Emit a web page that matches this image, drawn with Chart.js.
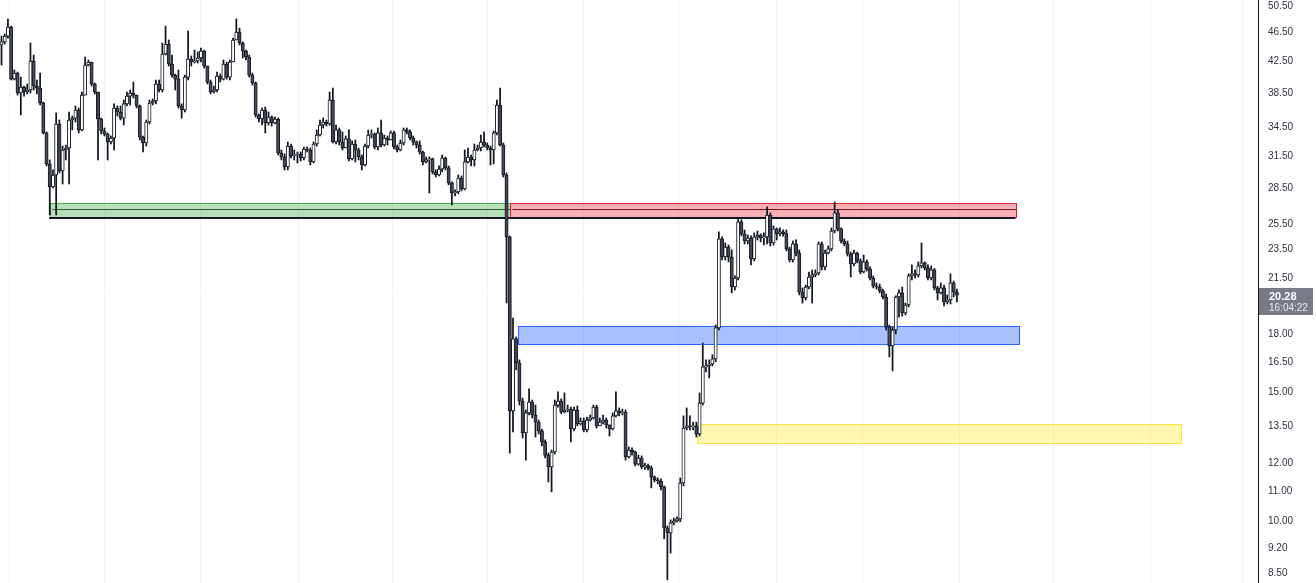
<!DOCTYPE html>
<html>
<head>
<meta charset="utf-8">
<script src="https://cdn.jsdelivr.net/npm/chart.js@4.4.0/dist/chart.umd.min.js"></script>
<style>
  html, body { margin: 0; padding: 0; background: #ffffff; overflow: hidden; }
  #grafico { display: block; }
</style>
</head>
<body>
<canvas id="grafico" width="1316" height="583"></canvas>
<script>
// ===== DADOS =====
const primeiraAbertura = 44.53;

const fechamentos = [
  44.96, 45.80, 47.11, 40.00, 40.77, 38.29, 39.01, 38.41, 38.65, 42.35, 39.14, 38.88, 37.11, 33.77, 30.63, 28.49,
  29.59, 34.73, 29.97, 32.01, 32.21, 35.17, 35.39, 36.30, 34.09, 38.04, 41.81, 42.21, 39.39, 38.41, 35.28, 33.98,
  33.66, 32.82, 33.24, 36.53, 36.07, 35.39, 37.00, 37.92, 38.29, 38.04, 36.76, 33.34, 32.72, 34.95, 37.11, 37.34,
  39.39, 38.65, 43.29, 44.67, 41.95, 40.51, 40.00, 36.76, 36.30, 40.25, 42.61, 42.21, 42.35, 42.75, 43.70, 41.68,
  39.64, 38.41, 38.65, 40.38, 40.00, 41.95, 40.26, 42.21, 45.24, 46.39, 44.81, 43.70, 42.88, 40.51, 39.51, 35.73,
  35.28, 36.30, 34.84, 35.50, 34.84, 35.28, 31.71, 31.31, 30.34, 32.41, 31.41, 31.51, 31.61, 31.21, 32.11, 32.01,
  30.83, 32.62, 33.55, 34.62, 34.95, 34.73, 37.46, 32.82, 34.09, 32.82, 32.21, 33.14, 31.12, 32.62, 32.01, 31.31,
  30.54, 32.41, 33.55, 33.66, 32.31, 33.77, 32.51, 33.24, 33.03, 33.77, 32.31, 32.01, 32.72, 34.09, 33.88, 33.24,
  32.82, 32.51, 31.81, 30.83, 31.02, 31.12, 29.87, 29.59, 30.15, 31.21, 30.25, 28.86, 27.96, 28.05, 29.31, 28.32,
  30.83, 31.31, 31.02, 32.01, 32.21, 32.82, 32.51, 32.21, 32.01, 33.77, 36.87, 32.51, 29.59, 24.35,
  14.09, 17.67, 16.38, 14.53, 13.15, 14.00, 14.49, 13.91, 13.60, 13.23, 12.78, 12.26, 11.81, 12.38, 14.35, 14.53,
  14.04, 14.13, 14.17, 13.31, 14.13, 13.52, 13.65, 13.27, 13.69, 13.78, 14.26, 13.44, 13.60, 13.69, 13.48, 13.31,
  13.87, 14.09, 14.00, 14.04, 12.19, 12.46, 12.38, 11.92, 12.15, 11.81, 11.86, 11.77, 11.45, 11.34, 11.30, 11.10, 9.75,
  9.60, 9.91, 9.97, 10.03, 11.23, 13.35, 13.44, 13.40, 13.44, 13.10, 14.44, 16.18, 16.23, 16.33, 16.59, 18.29,
  24.20, 22.86, 23.59, 22.86, 20.80, 21.40, 25.53, 24.58, 24.04, 24.27, 22.72, 24.35, 24.50, 24.27, 24.35, 26.09,
  23.89, 24.97, 24.58, 24.74, 24.60, 23.45, 22.65, 23.82, 23.15, 20.48, 20.10, 20.80, 21.47, 21.61, 21.74, 23.82, 22.16,
  23.15, 23.45, 24.81, 26.26, 24.97, 24.04, 23.82, 23.08, 22.37, 23.15, 22.58, 21.81, 22.51, 22.02, 21.40, 20.87,
  20.80, 20.55, 20.16, 18.34, 17.29, 18.17, 20.16, 20.42, 19.17, 19.66, 21.54, 21.68, 21.61, 22.23,
  22.44, 22.09, 21.40, 21.95, 20.74, 20.42, 20.74, 19.85, 19.97, 21.07, 20.48, 20.28
];

const maximas = [
  45.80, 46.09, 48.32, 47.26, 41.16, 40.90, 40.25, 39.13, 39.39, 44.81, 43.15, 39.89, 40.77, 37.22, 33.88, 31.02,
  30.06, 35.96, 35.17, 32.41, 32.51, 36.07, 35.62, 36.76, 36.53, 38.41, 42.88, 42.48, 42.21, 39.51, 38.41, 35.39,
  34.30, 33.77, 33.45, 37.00, 36.76, 36.76, 37.46, 38.41, 38.65, 39.64, 38.04, 36.87, 33.45, 35.17, 37.46, 37.58,
  39.89, 39.89, 44.81, 47.26, 45.24, 43.15, 40.64, 41.16, 37.00, 40.51, 46.53, 43.02, 43.84, 43.56, 44.11, 43.80,
  41.68, 39.89, 39.14, 40.90, 40.64, 42.48, 42.21, 42.48, 45.50, 48.32, 46.97, 44.96, 43.84, 43.15, 40.77, 39.64,
  35.84, 36.53, 36.64, 36.07, 35.62, 35.50, 35.39, 32.01, 31.61, 32.82, 32.62, 32.01, 31.81, 31.81, 32.31, 32.31,
  32.21, 32.82, 34.09, 35.17, 35.39, 35.17, 38.41, 38.89, 34.62, 34.30, 33.88, 33.45, 34.09, 32.93, 33.03, 32.20,
  31.51, 32.62, 34.09, 34.09, 33.77, 34.30, 35.17, 33.55, 33.45, 33.98, 33.98, 32.51, 33.03, 34.30, 34.30, 34.09,
  33.45, 32.93, 32.93, 31.91, 31.31, 31.31, 31.21, 30.06, 30.44, 31.51, 31.31, 30.44, 28.95, 28.23, 29.59, 29.50,
  32.01, 32.21, 31.51, 32.62, 32.51, 33.55, 33.88, 32.72, 32.41, 33.98, 37.46, 38.89, 32.72, 29.78,
  24.43, 18.87, 17.78, 16.54, 14.67, 14.13, 15.10, 14.58, 14.35, 13.69, 13.31, 12.86, 12.34, 12.46, 14.58, 14.96,
  14.63, 14.91, 14.35, 14.26, 14.26, 14.31, 13.78, 13.78, 13.82, 13.91, 14.35, 14.35, 13.78, 13.91, 13.78, 13.48,
  14.00, 14.96, 14.22, 14.17, 14.13, 12.58, 12.54, 12.42, 12.26, 12.23, 11.95, 11.92, 11.85, 11.48, 11.41, 11.38, 11.13,
  9.81, 10.00, 10.06, 10.10, 11.41, 13.87, 14.22, 13.87, 13.60, 13.60, 14.91, 17.44, 16.54, 16.54, 16.81, 18.46,
  24.74, 24.35, 23.89, 23.74, 23.37, 21.54, 25.85, 25.69, 24.89, 24.50, 24.43, 24.66, 24.81, 24.58, 24.66, 26.76,
  26.26, 25.21, 25.05, 25.05, 24.90, 24.89, 23.59, 24.04, 24.12, 23.37, 20.74, 20.93, 21.81, 21.95, 21.95, 23.97, 23.97,
  23.37, 23.67, 25.05, 27.18, 26.51, 25.05, 24.20, 24.04, 23.22, 23.37, 23.22, 22.72, 23.00, 22.65, 22.16, 21.54,
  21.07, 21.00, 20.67, 20.35, 18.46, 18.34, 20.23, 20.61, 20.80, 19.78, 21.68, 22.30, 21.95, 22.51,
  23.89, 22.51, 22.30, 22.23, 22.05, 20.85, 21.07, 20.93, 20.29, 21.68, 21.20, 20.67
];

const minimas = [
  41.81, 44.67, 45.50, 39.89, 39.89, 38.04, 35.73, 37.92, 38.17, 38.29, 38.65, 38.17, 36.87, 33.66, 30.44, 26.09,
  28.40, 26.09, 29.78, 28.76, 31.02, 28.76, 34.09, 34.95, 33.77, 33.98, 38.04, 41.68, 39.14, 38.17, 31.02, 33.66,
  33.45, 31.02, 32.62, 32.01, 35.62, 35.17, 34.62, 36.76, 36.87, 37.69, 36.53, 33.03, 31.81, 32.41, 34.73, 36.87,
  37.00, 38.41, 38.41, 43.15, 41.68, 40.26, 38.65, 36.53, 35.39, 36.07, 39.89, 41.68, 42.08, 42.08, 42.21, 41.42,
  39.39, 38.17, 38.29, 38.41, 39.64, 39.89, 40.00, 39.89, 42.21, 45.24, 44.53, 42.75, 42.48, 40.26, 39.26, 35.50,
  34.95, 34.62, 33.77, 34.62, 34.51, 34.73, 31.51, 31.02, 30.06, 30.06, 31.21, 31.02, 30.73, 30.92, 31.02, 31.81,
  30.54, 30.73, 32.41, 33.45, 34.30, 34.51, 34.60, 32.72, 32.62, 32.51, 32.01, 32.21, 30.92, 31.02, 30.83, 31.02,
  30.06, 30.44, 32.21, 33.24, 32.11, 32.01, 32.31, 32.41, 32.51, 33.03, 32.11, 31.81, 31.91, 32.51, 33.66, 33.03,
  32.51, 32.21, 31.61, 30.54, 30.73, 27.96, 29.68, 29.40, 29.50, 29.87, 30.06, 28.68, 26.93, 27.70, 27.88, 28.14,
  28.23, 30.73, 30.44, 30.44, 31.91, 31.91, 32.31, 32.01, 30.54, 30.63, 33.55, 32.41, 29.40, 19.78,
  12.34, 13.19, 16.03, 14.35, 12.94, 12.07, 13.91, 13.78, 12.98, 13.10, 12.62, 12.15, 11.27, 10.92, 12.30, 14.26,
  13.96, 14.00, 14.04, 12.78, 13.23, 13.44, 13.48, 13.19, 13.19, 13.65, 13.73, 13.35, 13.44, 13.52, 13.35, 13.02,
  13.27, 13.82, 13.87, 13.91, 12.07, 12.15, 12.26, 11.85, 11.88, 11.74, 11.72, 11.70, 11.06, 11.27, 11.20, 10.99, 9.42,
  8.28, 9.01, 9.84, 9.94, 9.94, 11.13, 13.27, 13.27, 13.27, 12.98, 13.02, 14.35, 15.93, 15.63, 16.23, 16.44,
  18.17, 22.65, 22.65, 22.51, 20.42, 20.61, 21.27, 24.43, 23.82, 23.82, 22.30, 22.58, 24.12, 23.97, 23.74, 23.82,
  23.67, 23.74, 24.12, 24.43, 24.40, 23.30, 22.51, 22.51, 22.93, 20.29, 19.78, 19.97, 20.67, 19.78, 21.47, 21.61, 21.95,
  21.95, 23.08, 23.30, 24.66, 24.81, 23.89, 23.67, 22.93, 21.47, 22.23, 22.44, 21.68, 21.74, 21.88, 21.27, 20.74,
  20.67, 20.42, 20.04, 18.17, 16.70, 15.98, 17.95, 18.92, 18.98, 19.05, 19.54, 21.27, 21.40, 21.47,
  22.09, 21.95, 21.27, 21.27, 20.61, 19.97, 20.35, 19.60, 19.72, 19.72, 20.16, 19.85
];

// linhas verticais da grade de tempo (posição em índice de candle)
const gradeTempo = [2.6, 31.9, 62.0, 92.2, 121.4, 151.2, 180.8, 210.3, 240.8, 267.8, 297.9, 326.9, 357.3, 385.9];

// níveis mostrados na escala de preço
const niveisPreco = [50.5, 46.5, 42.5, 38.5, 34.5, 31.5, 28.5, 25.5, 23.5, 21.5, 18, 16.5, 15, 13.5, 12, 11, 10, 9.2, 8.5];

// zonas desenhadas (verde, vermelha, azul, amarela)
const zonaInicio = [15.1, 158.1, 160.6, 216.2];
const zonaFim    = [158.1, 315.4, 316.3, 366.7];
const zonaTopo   = [27.10, 27.10, 18.41, 13.52];
const zonaBase   = [25.90, 25.90, 17.39, 12.74];
const zonaMeio   = [26.55, 26.55, null, null];

// linha de suporte preta sob as zonas verde e vermelha
const suporteInicio = 14.8;
const suporteFim = 315.2;
const suportePreco = 25.84;

const horaUltimo = '16:04:22';

// ===== CORES =====
const coresZona = [
  { fundo: 'rgba(76,175,80,0.4)',  borda: '#4caf50', meio: '#2f5e31' },
  { fundo: 'rgba(242,54,69,0.4)',  borda: '#e3202f', meio: '#74141c' },
  { fundo: 'rgba(41,98,255,0.4)',  borda: '#2962ff', meio: null },
  { fundo: 'rgba(255,235,59,0.4)', borda: '#fbe440', meio: null }
];
const corContorno = '#131722';
const corAlta = '#ffffff';
const corBaixa = '#454957';

// aberturas: cada candle abre onde o anterior fechou
const aberturas = fechamentos.map((f, i) => i === 0 ? primeiraAbertura : fechamentos[i - 1]);

const pavios = fechamentos.map((f, i) => ({ x: i, y: [minimas[i], maximas[i]] }));
const corpos = fechamentos.map((f, i) => ({ x: i, y: [aberturas[i], f] }));
const coresCorpo = fechamentos.map((f, i) => f >= aberturas[i] ? corAlta : corBaixa);

// desenha as zonas antes dos candles
const zonas = {
  id: 'zonas',
  beforeDatasetsDraw: function(chart) {
    const ctx = chart.ctx;
    const sx = chart.scales.x, sy = chart.scales.y;
    ctx.save();
    zonaInicio.forEach(function(ini, k) {
      const x1 = Math.round(sx.getPixelForValue(ini)) + 0.5;
      const x2 = Math.round(sx.getPixelForValue(zonaFim[k])) + 0.5;
      const y1 = Math.round(sy.getPixelForValue(zonaTopo[k])) + 0.5;
      const y2 = Math.round(sy.getPixelForValue(zonaBase[k])) + 0.5;
      const c = coresZona[k];
      ctx.fillStyle = c.fundo;
      ctx.fillRect(x1, y1, x2 - x1, y2 - y1);
      ctx.strokeStyle = c.borda;
      ctx.lineWidth = 1;
      ctx.strokeRect(x1, y1, x2 - x1, y2 - y1);
      if (zonaMeio[k] !== null && c.meio) {
        const ym = Math.round(sy.getPixelForValue(zonaMeio[k])) + 0.5;
        ctx.strokeStyle = c.meio;
        ctx.beginPath();
        ctx.moveTo(x1 + 2, ym);
        ctx.lineTo(x2, ym);
        ctx.stroke();
      }
    });
    // linha preta de suporte
    const ys = Math.round(sy.getPixelForValue(suportePreco));
    ctx.strokeStyle = corContorno;
    ctx.lineWidth = 2;
    ctx.beginPath();
    ctx.moveTo(sx.getPixelForValue(suporteInicio), ys);
    ctx.lineTo(sx.getPixelForValue(suporteFim), ys);
    ctx.stroke();
    ctx.restore();
  }
};

// etiqueta do último preço na escala
const etiquetaPreco = {
  id: 'etiquetaPreco',
  afterDraw: function(chart) {
    const ctx = chart.ctx;
    const ultimo = fechamentos[fechamentos.length - 1];
    const y = Math.round(chart.scales.y.getPixelForValue(ultimo));
    const x = chart.chartArea.right + 1;
    ctx.save();
    ctx.fillStyle = '#787b86';
    ctx.fillRect(x, y - 7, 54, 27);
    ctx.fillStyle = '#ffffff';
    ctx.textBaseline = 'middle';
    ctx.font = 'bold 11px "Liberation Sans", Arial, sans-serif';
    ctx.fillText(ultimo.toFixed(2), x + 10, y + 1.5);
    ctx.fillStyle = '#e9eaee';
    ctx.font = '10px "Liberation Sans", Arial, sans-serif';
    ctx.fillText(horaUltimo, x + 10, y + 13.5);
    ctx.restore();
  }
};

const ctx = document.getElementById('grafico').getContext('2d');

const grafico = new Chart(ctx, {
  type: 'bar',
  data: {
    datasets: [
      {
        label: 'corpos',
        data: corpos,
        backgroundColor: coresCorpo,
        borderColor: corContorno,
        borderWidth: 1,
        borderSkipped: false,
        barThickness: 3.3,
        grouped: false,
        order: 0
      },
      {
        label: 'pavios',
        data: pavios,
        backgroundColor: corContorno,
        borderWidth: 0,
        barThickness: 1.1,
        grouped: false,
        order: 1
      }
    ]
  },
  options: {
    responsive: false,
    devicePixelRatio: 1,
    animation: false,
    layout: { padding: 0 },
    plugins: {
      legend: { display: false },
      tooltip: { enabled: false },
      title: { display: false }
    },
    scales: {
      x: {
        type: 'linear',
        min: -0.466,
        max: 390.6,
        offset: false,
        afterBuildTicks: function(scale) {
          scale.ticks = gradeTempo.map(v => ({ value: v }));
        },
        ticks: { display: false },
        grid: { color: '#f0f2f6', lineWidth: 1, drawTicks: false, offset: false },
        border: { display: false }
      },
      y: {
        type: 'logarithmic',
        position: 'right',
        min: 8.20,
        max: 51.30,
        afterBuildTicks: function(scale) {
          scale.ticks = niveisPreco.map(v => ({ value: v }));
        },
        afterFit: function(scale) {
          scale.width = 58;
          scale.paddingTop = 0;
          scale.paddingBottom = 0;
        },
        ticks: {
          autoSkip: false,
          padding: 10,
          labelOffset: 1.5,
          color: '#2f3241',
          font: { family: '"Liberation Sans", Arial, sans-serif', size: 10 },
          callback: function(v) { return Number(v).toFixed(2); }
        },
        grid: { display: false, drawTicks: false },
        border: { display: true, color: corContorno, width: 1 }
      }
    }
  },
  plugins: [zonas, etiquetaPreco]
});
</script>
</body>
</html>
